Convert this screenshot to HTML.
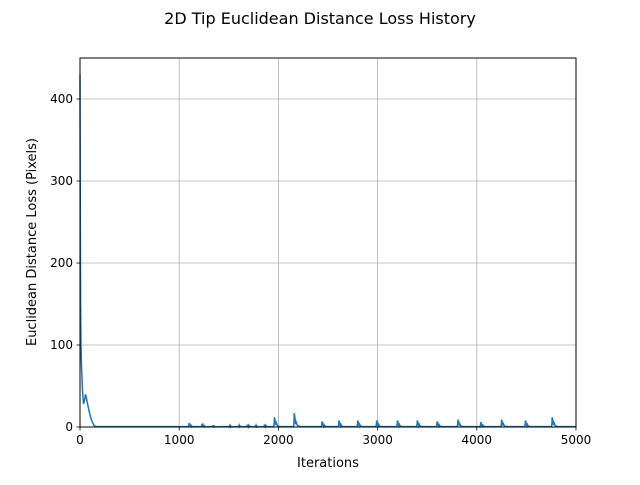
<!DOCTYPE html>
<html><head><meta charset="utf-8"><style>
body{margin:0;background:#fff;font-family:"Liberation Sans","DejaVu Sans",sans-serif;}
svg text{font-family:"DejaVu Sans","Liberation Sans",sans-serif;}
</style></head><body>
<svg id="chart" width="640" height="480" viewBox="0 0 640 480">
<rect width="640" height="480" fill="#fff"/>
<text x="320" y="24" text-anchor="middle" font-size="16">2D Tip Euclidean Distance Loss History</text>
<g id="grid"></g>
<g id="ticks"></g>
<path id="line" fill="none" stroke="#1f77b4" stroke-width="1.5"/>
<rect x="80" y="58" width="496" height="369" fill="none" stroke="#000" stroke-width="1"/>
<text x="328" y="467" text-anchor="middle" font-size="13">Iterations</text>
<text transform="translate(36,242) rotate(-90)" text-anchor="middle" font-size="13">Euclidean Distance Loss (Pixels)</text>
</svg>
<script>
const xTicks=[0,1000,2000,3000,4000,5000];
const yTicks=[0,100,200,300,400];
const earlyIters=[0,3,6,10,15,25,35,45,55,65,80,100,120,140,160];
const earlyLoss=[430,260,150,100,75,45,28,32,40,35,26,15,7,2,0.5];
const spikeIters=[1100,1230,1340,1510,1600,1690,1770,1860,1960,2160,2440,2610,2800,2990,3200,3400,3600,3810,4040,4250,4490,4760];
const spikeLoss=[5,4,2,1.5,2,3,2,3,12,17,7,8,8,8,8,8,7,9,6,9,8,12];
const X0=80,X1=576,Y0=427,Y1=58,XMAX=5000,YMAX=450;
const sx=v=>X0+v/XMAX*(X1-X0);
const sy=v=>Y0-v/YMAX*(Y0-Y1);
const ns="http://www.w3.org/2000/svg";
const grid=document.getElementById('grid'),ticks=document.getElementById('ticks');
function mk(tag,attrs,parent){const e=document.createElementNS(ns,tag);for(const k in attrs)e.setAttribute(k,attrs[k]);parent.appendChild(e);return e;}
xTicks.forEach(t=>{
 const g=mk('line',{x1:sx(t),x2:sx(t),y1:Y1,y2:Y0,stroke:'#b0b0b0','stroke-width':0.8},grid);
 
 
 mk('line',{x1:sx(t),x2:sx(t),y1:Y0,y2:Y0+3.5,stroke:'#000','stroke-width':0.8},ticks);
 const tx=mk('text',{x:sx(t),y:Y0+17,'text-anchor':'middle','font-size':12},ticks);
 tx.textContent=t;
 
 
});
yTicks.forEach(t=>{
 const g=mk('line',{x1:X0,x2:X1,y1:sy(t),y2:sy(t),stroke:'#b0b0b0','stroke-width':0.8},grid);
 
 
 mk('line',{x1:X0-3.5,x2:X0,y1:sy(t),y2:sy(t),stroke:'#000','stroke-width':0.8},ticks);
 const tx=mk('text',{x:X0-7,y:sy(t)+4,'text-anchor':'end','font-size':12},ticks);
 tx.textContent=t;
 
 
});
let pts=[];
earlyIters.forEach((it,i)=>pts.push([it,earlyLoss[i]]));
spikeIters.forEach((it,i)=>{
 const p=spikeLoss[i];
 pts.push([it-6,0.5],[it-2,p*0.5],[it,p],[it+3,p*0.3],[it+5,p*0.85],[it+8,p*0.25],[it+11,p*0.6],[it+15,p*0.2],[it+20,p*0.4],[it+28,p*0.15],[it+40,p*0.08],[it+60,0.5]);
});
pts.push([5000,0.5]);
document.getElementById('line').setAttribute('d',pts.map((p,i)=>(i?'L':'M')+sx(p[0]).toFixed(2)+','+sy(p[1]).toFixed(2)).join(''));
</script>
</body></html>
